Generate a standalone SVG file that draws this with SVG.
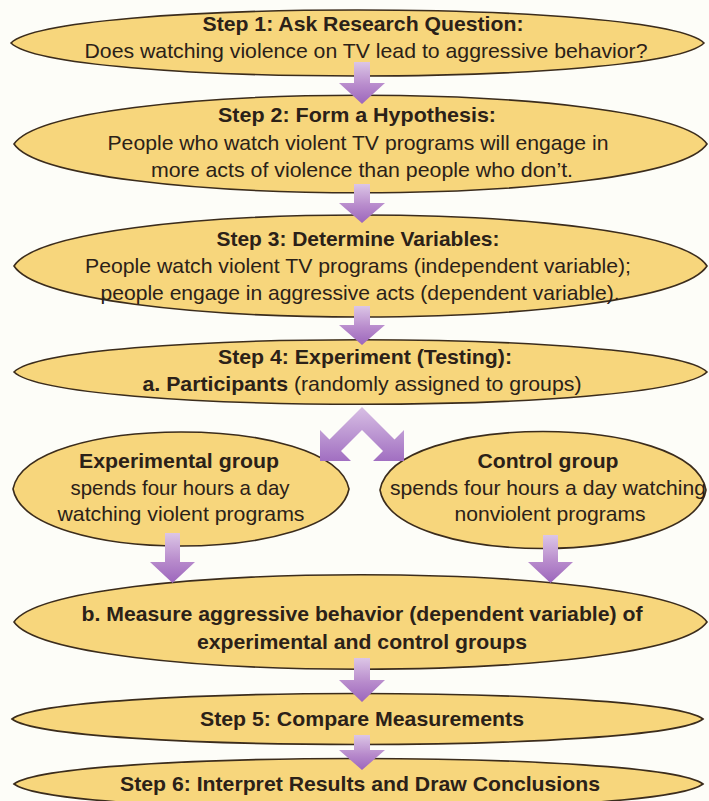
<svg xmlns="http://www.w3.org/2000/svg" width="709" height="801" viewBox="0 0 709 801">
<defs>
<style>
.shape{fill:#f7d67c;stroke:#3b2c1c;stroke-width:1.6}
text{font-family:"Liberation Sans",Arial,sans-serif;font-size:21px;fill:#2b2118;text-anchor:middle}
.b{font-weight:bold}
.arr{fill:url(#ag);stroke:none}
</style>
<linearGradient id="ag" x1="0" y1="0" x2="0" y2="1">
<stop offset="0" stop-color="#dcc6e6"/>
<stop offset="0.55" stop-color="#b88bcc"/>
<stop offset="1" stop-color="#9c66bc"/>
</linearGradient>
<linearGradient id="sg" x1="0" y1="0" x2="0" y2="1">
<stop offset="0" stop-color="#d8bfe4"/>
<stop offset="1" stop-color="#a16fc1"/>
</linearGradient>
</defs>
<rect width="709" height="801" fill="#fdfdf8"/>

<g id="step1">
<path class="shape" d="M11,43 C55,-1 660,-1 704,43 C660,87 55,87 11,43 Z"/>
<text class="b" x="363" y="31" textLength="321" lengthAdjust="spacingAndGlyphs">Step 1: Ask Research Question:</text>
<text x="366" y="58" textLength="563" lengthAdjust="spacingAndGlyphs">Does watching violence on TV lead to aggressive behavior?</text>
</g>

<g id="step2">
<path class="shape" d="M14,144 C58,79 663,79 707,144 C663,209 58,209 14,144 Z"/>
<text class="b" x="357" y="122" textLength="278" lengthAdjust="spacingAndGlyphs">Step 2: Form a Hypothesis:</text>
<text x="358" y="150" textLength="501" lengthAdjust="spacingAndGlyphs">People who watch violent TV programs will engage in</text>
<text x="362" y="177" textLength="422" lengthAdjust="spacingAndGlyphs">more acts of violence than people who don’t.</text>
</g>

<g id="step3">
<path class="shape" d="M14,266 C58,198 663,198 707,266 C663,334 58,334 14,266 Z"/>
<text class="b" x="358" y="246" textLength="283" lengthAdjust="spacingAndGlyphs">Step 3: Determine Variables:</text>
<text x="358" y="273" textLength="546" lengthAdjust="spacingAndGlyphs">People watch violent TV programs (independent variable);</text>
<text x="360" y="300" textLength="519" lengthAdjust="spacingAndGlyphs">people engage in aggressive acts (dependent variable).</text>
</g>

<g id="step4">
<path class="shape" d="M14,372 C58,329 663,329 707,372 C663,415 58,415 14,372 Z"/>
<text class="b" x="365" y="364" textLength="294" lengthAdjust="spacingAndGlyphs">Step 4: Experiment (Testing):</text>
<text x="362" y="391" textLength="439" lengthAdjust="spacingAndGlyphs"><tspan class="b">a. Participants</tspan> (randomly assigned to groups)</text>
</g>

<g id="experimental">
<path class="shape" d="M13,489 C28,413 334,413 349,489 C334,565 28,565 13,489 Z"/>
<text class="b" x="179" y="468" textLength="200" lengthAdjust="spacingAndGlyphs">Experimental group</text>
<text x="180" y="495" textLength="219" lengthAdjust="spacingAndGlyphs">spends four hours a day</text>
<text x="181" y="521" textLength="247" lengthAdjust="spacingAndGlyphs">watching violent programs</text>
</g>

<g id="control">
<path class="shape" d="M380,490 C394,412 692,412 706,490 C692,568 394,568 380,490 Z"/>
<text class="b" x="548" y="468" textLength="141" lengthAdjust="spacingAndGlyphs">Control group</text>
<text x="548" y="495" textLength="316" lengthAdjust="spacingAndGlyphs">spends four hours a day watching</text>
<text x="550" y="521" textLength="191" lengthAdjust="spacingAndGlyphs">nonviolent programs</text>
</g>

<g id="measure">
<path class="shape" d="M14,622 C58,559 663,559 707,622 C663,685 58,685 14,622 Z"/>
<text class="b" x="362" y="621" textLength="561" lengthAdjust="spacingAndGlyphs">b. Measure aggressive behavior (dependent variable) of</text>
<text class="b" x="362" y="649" textLength="330" lengthAdjust="spacingAndGlyphs">experimental and control groups</text>
</g>

<g id="step5">
<path class="shape" d="M12,719 C56,685 659,685 703,719 C659,753 56,753 12,719 Z"/>
<text class="b" x="362" y="726" textLength="324" lengthAdjust="spacingAndGlyphs">Step 5: Compare Measurements</text>
</g>

<g id="step6">
<path class="shape" d="M14,784 C58,750 659,750 703,784 C659,818 58,818 14,784 Z"/>
<text class="b" x="360" y="791" textLength="480" lengthAdjust="spacingAndGlyphs">Step 6: Interpret Results and Draw Conclusions</text>
</g>

<g id="connectors">
<path class="arr" d="M354,62 H370 V83 H385 L362,104 L339,83 H354 Z"/>
<path class="arr" d="M354,184 H370 V203 H385 L362,223 L339,203 H354 Z"/>
<path class="arr" d="M354,306 H370 V325 H385 L362,345 L339,325 H354 Z"/>
<path fill="url(#sg)" d="M362,407 L329.5,439.5 L320,430 L320,461 L351,461 L341,451 L362,430 L383,451 L373,461 L404,461 L404,430 L394.5,439.5 Z"/>
<path class="arr" d="M165,533 H180 V562 H195 L172.5,583 L150,562 H165 Z"/>
<path class="arr" d="M543,535 H558 V562 H573 L550.5,583 L528,562 H543 Z"/>
<path class="arr" d="M354,658 H370 V680 H385 L362,702 L339,680 H354 Z"/>
<path class="arr" d="M354,735 H370 V750 H385 L362,770 L339,750 H354 Z"/>
</g>
</svg>
